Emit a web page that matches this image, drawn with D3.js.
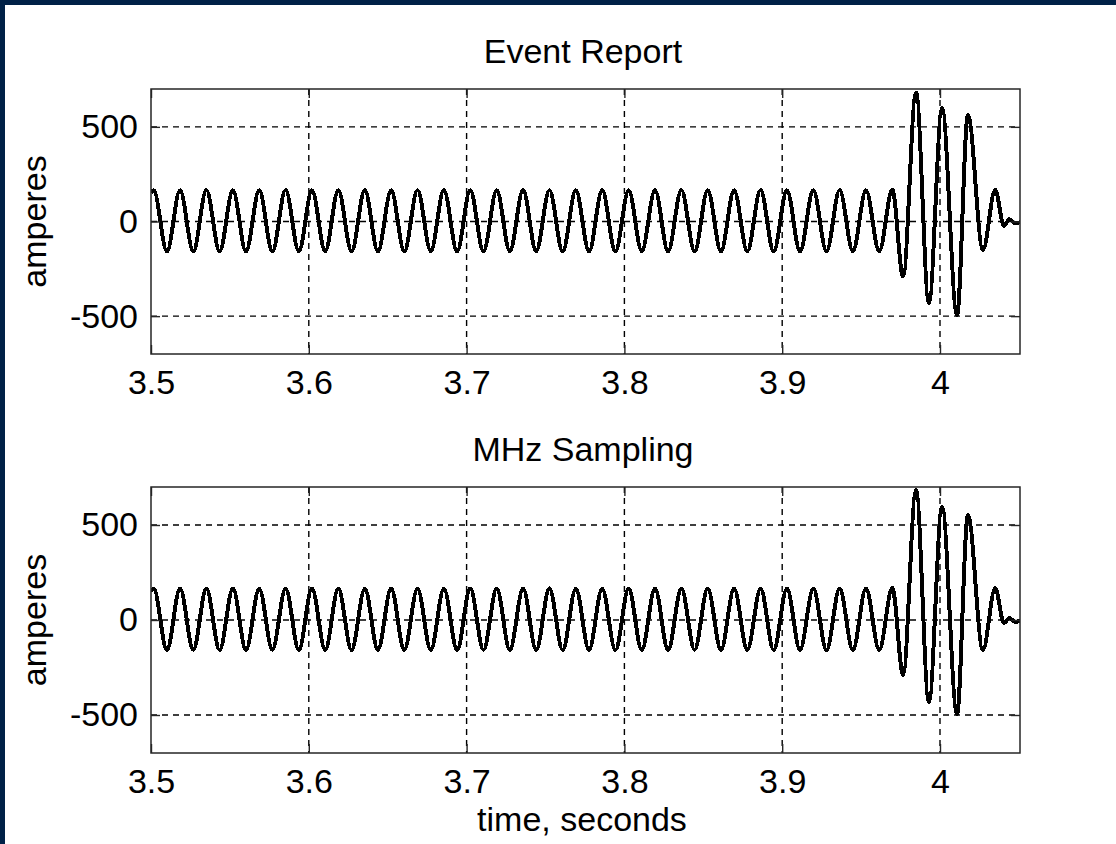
<!DOCTYPE html>
<html>
<head>
<meta charset="utf-8">
<script src="https://cdn.jsdelivr.net/npm/d3@7"></script>
<style>
  body { margin: 0; background: #002147; }
  svg { display: block; }
  text { font-family: "Liberation Sans", Arial, sans-serif; fill: #000; }
</style>
</head>
<body>
<svg id="chart" width="1116" height="844"></svg>
<script>
// time of each extremum of the current trace (seconds)
var times = [3.5000,
  3.5017, 3.5101, 3.5184, 3.5268, 3.5351, 3.5435, 3.5519, 3.5602, 3.5686, 3.5769,
  3.5853, 3.5937, 3.6020, 3.6104, 3.6187, 3.6271, 3.6355, 3.6438, 3.6522, 3.6605,
  3.6689, 3.6773, 3.6856, 3.6940, 3.7023, 3.7107, 3.7191, 3.7274, 3.7358, 3.7441,
  3.7525, 3.7609, 3.7692, 3.7776, 3.7859, 3.7943, 3.8027, 3.8110, 3.8194, 3.8277,
  3.8361, 3.8445, 3.8528, 3.8612, 3.8695, 3.8779, 3.8863, 3.8946, 3.9030, 3.9113,
  3.9197, 3.9281, 3.9364, 3.9448, 3.9531, 3.9615, 3.9698,
  3.9766, 3.9848, 3.9930, 4.0013, 4.0108, 4.0177, 4.0272, 4.0350,
  4.0405, 4.0440, 4.0475, 4.0507];

// amperes, event report (top)
var eventAmps = [152,
  165, -158, 165, -158, 166, -157, 165, -158, 165, -158,
  166, -158, 165, -157, 165, -158, 166, -158, 165, -158,
  165, -157, 166, -158, 165, -158, 165, -158, 166, -157,
  165, -158, 165, -158, 166, -158, 165, -157, 165, -158,
  166, -158, 165, -158, 165, -157, 166, -158, 165, -158,
  165, -158, 166, -157, 165, -158, 168,
  -291, 681, -431, 600, -495, 562, -150, 167,
  -22, 12, -8, -4];

// amperes, MHz sampling (bottom)
var mhzAmps = [150,
  166, -158, 166, -157, 165, -158, 166, -158, 165, -157,
  165, -158, 166, -158, 165, -158, 165, -157, 166, -158,
  165, -158, 165, -158, 166, -157, 165, -158, 165, -158,
  166, -158, 165, -157, 165, -158, 166, -158, 165, -158,
  165, -157, 166, -158, 165, -158, 165, -158, 166, -157,
  165, -158, 165, -158, 166, -158, 169,
  -289, 684, -432, 597, -495, 553, -158, 168,
  -16, 10, -9, -6];

var xTicks = [3.5, 3.6, 3.7, 3.8, 3.9, 4.0];
var xTickLabels = ["3.5", "3.6", "3.7", "3.8", "3.9", "4"];
var yTicks = [-500, 0, 500];
var yTickLabels = ["-500", "0", "500"];
var titles = ["Event Report", "MHz Sampling"];

var svg = d3.select("#chart");
svg.append("rect").attr("x", 5).attr("y", 5).attr("width", 1111).attr("height", 839).attr("fill", "#fff");

var x = d3.scaleLinear().domain([3.5, 4.0507]).range([151, 1020]);

function panel(idx, top, bottom, amps) {
  var y = d3.scaleLinear().domain([-700, 700]).range([bottom, top]);
  var g = svg.append("g");

  // dashed grid
  g.selectAll(".gx").data(xTicks.slice(1)).enter().append("line")
    .attr("x1", d => x(d)).attr("x2", d => x(d)).attr("y1", top).attr("y2", bottom)
    .attr("stroke", "#000").attr("stroke-width", 1.4).attr("stroke-dasharray", "6,5");
  g.selectAll(".gy").data(yTicks).enter().append("line")
    .attr("x1", 151).attr("x2", 1020).attr("y1", d => y(d)).attr("y2", d => y(d))
    .attr("stroke", "#000").attr("stroke-width", 1.4).attr("stroke-dasharray", "6,5");

  // trace
  var clipId = "clip" + idx;
  svg.append("clipPath").attr("id", clipId).append("rect")
    .attr("x", 151).attr("y", top).attr("width", 1020 - 151).attr("height", bottom - top);
  var line = d3.line().x(d => x(d[0])).y(d => y(d[1])).curve(d3.curveMonotoneX);
  g.append("path").datum(d3.zip(times, amps))
    .attr("d", line).attr("clip-path", "url(#" + clipId + ")")
    .attr("fill", "none").attr("stroke", "#000").attr("stroke-width", 4)
    .attr("stroke-linejoin", "miter").style("shape-rendering", "crispEdges");

  // axes, ticks pointing inward
  var xb = g.append("g").attr("transform", "translate(0," + bottom + ")")
    .call(d3.axisBottom(x).tickValues(xTicks).tickFormat((d, i) => xTickLabels[i]).tickSizeInner(-9).tickSizeOuter(0).tickPadding(16));
  var xt = g.append("g").attr("transform", "translate(0," + top + ")")
    .call(d3.axisTop(x).tickValues(xTicks).tickFormat("").tickSizeInner(-9).tickSizeOuter(0));
  var yl = g.append("g").attr("transform", "translate(151,0)")
    .call(d3.axisLeft(y).tickValues(yTicks).tickFormat((d, i) => yTickLabels[i]).tickSizeInner(-9).tickSizeOuter(0).tickPadding(13));
  var yr = g.append("g").attr("transform", "translate(1020,0)")
    .call(d3.axisRight(y).tickValues(yTicks).tickFormat("").tickSizeInner(-9).tickSizeOuter(0));
  [xb, xt, yl, yr].forEach(a => {
    a.selectAll(".domain").remove();
    a.selectAll("line").attr("stroke", "#262626").attr("stroke-width", 1.4);
    a.selectAll("text").style("font-size", "34px").attr("fill", "#000")
      .style("font-family", "'Liberation Sans', Arial, sans-serif");
  });
  g.append("rect").attr("x", 151).attr("y", top).attr("width", 1020 - 151).attr("height", bottom - top)
    .attr("fill", "none").attr("stroke", "#262626").attr("stroke-width", 1.5);

  g.append("text").attr("x", 583).attr("y", top - 26).attr("text-anchor", "middle")
    .style("font-size", "34px").text(titles[idx]);
  g.append("text").attr("transform", "translate(46," + ((top + bottom) / 2) + ") rotate(-90)")
    .attr("text-anchor", "middle").style("font-size", "34px").text("amperes");
}

panel(0, 89, 354, eventAmps);
panel(1, 487, 753, mhzAmps);

svg.append("text").attr("x", 582).attr("y", 831).attr("text-anchor", "middle")
  .style("font-size", "34px").text("time, seconds");
</script>
</body>
</html>
